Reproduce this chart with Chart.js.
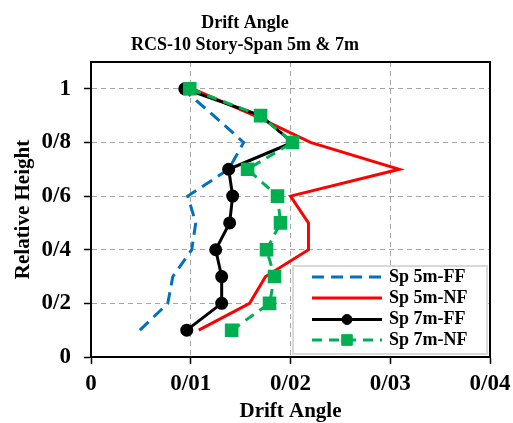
<!DOCTYPE html>
<html>
<head>
<meta charset="utf-8">
<title>Drift Angle</title>
<script src="https://cdn.jsdelivr.net/npm/chart.js@4.4.1/dist/chart.umd.min.js"></script>
<style>
    html, body { margin: 0; padding: 0; background: #fff; }
    canvas { display: block; }
</style>
</head>
<body>
<canvas id="driftChart" width="513" height="423"></canvas>
<script>
// ==========================================================================================================
// -- Data --
// ==========================================================================================================

const relativeHeight = [0.1, 0.2, 0.3, 0.4, 0.5, 0.6, 0.7, 0.8, 0.9, 1.0];

const sp5mFF = [0.0049, 0.0077, 0.0082, 0.0101, 0.0105, 0.0097, 0.0138, 0.0153, 0.0123, 0.0092];
const sp5mNF = [0.0108, 0.0159, 0.0175, 0.0218, 0.0218, 0.0200, 0.0309, 0.0220, 0.0164, 0.0102];
const sp7mFF = [0.0096, 0.0131, 0.0131, 0.0125, 0.0139, 0.0142, 0.0138, 0.0202, 0.0170, 0.0094];
const sp7mNF = [0.0141, 0.0179, 0.0184, 0.0176, 0.0190, 0.0187, 0.0157, 0.0202, 0.0170, 0.0099];

const seriesNames = ['Sp 5m-FF', 'Sp 5m-NF', 'Sp 7m-FF', 'Sp 7m-NF'];

const xTickValues = [0, 0.01, 0.02, 0.03, 0.04];
const xTickLabels = ['0', '0/01', '0/02', '0/03', '0/04'];
const yTickValues = [0, 0.2, 0.4, 0.6, 0.8, 1];
const yTickLabels = ['0', '0/2', '0/4', '0/6', '0/8', '1'];

// ==========================================================================================================
// -- Helpers --
// ==========================================================================================================

const FONT = "'Liberation Serif', 'Times New Roman', serif";
Chart.defaults.font.family = FONT;
Chart.defaults.color = '#000';

function toPoints(values) {
    return values.map((v, i) => ({ x: v, y: relativeHeight[i] }));
}

// no label overhang padding, the layout padding decides the plot box
function noOverhang(scale) {
    scale.paddingLeft = 0;
    scale.paddingRight = 0;
    scale.paddingTop = 0;
    scale.paddingBottom = 0;
}

// frame round the plot + legend inside the plot area
const framePlugin = {
    id: 'frameAndLegend',
    afterDraw(chart) {
        const { ctx, chartArea } = chart;
        ctx.save();
        ctx.strokeStyle = '#000';
        ctx.lineWidth = 2;
        ctx.strokeRect(chartArea.left, chartArea.top, chartArea.right - chartArea.left, chartArea.bottom - chartArea.top);

        // Legend box
        const box = { x: 293, y: 266, w: 194, h: 88 };
        ctx.fillStyle = '#fff';
        ctx.fillRect(box.x, box.y, box.w, box.h);
        ctx.strokeStyle = '#d9d9d9';
        ctx.lineWidth = 2;
        ctx.strokeRect(box.x, box.y, box.w, box.h);

        const rowY = [277, 298, 319.5, 340];
        chart.data.datasets.forEach((ds, i) => {
            const y = rowY[i];
            ctx.save();
            ctx.strokeStyle = ds.borderColor;
            ctx.lineWidth = ds.borderWidth;
            ctx.setLineDash(ds.borderDash || []);
            ctx.beginPath();
            ctx.moveTo(312, y);
            ctx.lineTo(382, y);
            ctx.stroke();
            ctx.restore();
            if (ds.pointRadius > 0) {
                ctx.fillStyle = ds.pointBackgroundColor;
                ctx.strokeStyle = ds.pointBorderColor;
                ctx.lineWidth = 1;
                Chart.helpers.drawPoint(ctx, {
                    pointStyle: ds.pointStyle,
                    radius: ds.pointRadius,
                    borderWidth: 1,
                    rotation: 0
                }, 347, y);
            }
            ctx.fillStyle = '#000';
            ctx.font = `bold 18px ${FONT}`;
            ctx.textAlign = 'left';
            ctx.textBaseline = 'middle';
            ctx.fillText(ds.label, 389, y);
        });
        ctx.restore();
    }
};

// ==========================================================================================================
// -- Chart --
// ==========================================================================================================

const ctx = document.getElementById('driftChart').getContext('2d');

new Chart(ctx, {
    type: 'line',
    data: {
        datasets: [
            {
                label: seriesNames[0],
                data: toPoints(sp5mFF),
                borderColor: '#0070C0',
                borderWidth: 3,
                borderDash: [12, 7],
                pointRadius: 0,
                order: 4
            },
            {
                label: seriesNames[1],
                data: toPoints(sp5mNF),
                borderColor: '#FF0000',
                borderWidth: 3,
                pointRadius: 0,
                order: 3
            },
            {
                label: seriesNames[2],
                data: toPoints(sp7mFF),
                borderColor: '#000000',
                borderWidth: 3,
                pointStyle: 'circle',
                pointRadius: 5,
                pointBackgroundColor: '#000000',
                pointBorderColor: '#000000',
                order: 2
            },
            {
                label: seriesNames[3],
                data: toPoints(sp7mNF),
                borderColor: '#00B050',
                borderWidth: 3,
                borderDash: [10, 7],
                pointStyle: 'rect',
                pointRadius: 7.5,
                pointBackgroundColor: '#00B050',
                pointBorderColor: '#00B050',
                order: 1
            }
        ]
    },
    options: {
        responsive: false,
        animation: false,
        tension: 0,
        layout: { padding: { left: 0, right: 23, top: 0, bottom: 0 } },
        plugins: {
            legend: { display: false },
            tooltip: { enabled: false },
            title: {
                display: true,
                text: ['Drift Angle', 'RCS-10 Story-Span 5m & 7m'],
                color: '#000',
                font: { family: FONT, size: 18, weight: 'bold', lineHeight: 1.2 },
                padding: { top: 12.5, bottom: 6.3 }
            }
        },
        scales: {
            x: {
                type: 'linear',
                min: 0,
                max: 0.04,
                afterBuildTicks: (scale) => { scale.ticks = xTickValues.map(v => ({ value: v })); },
                afterFit: (scale) => { scale.height = 66; noOverhang(scale); },
                ticks: {
                    padding: 6,
                    maxRotation: 0,
                    font: { family: FONT, size: 23, weight: 'bold' },
                    callback: (value, index) => xTickLabels[index]
                },
                grid: {
                    color: '#a6a6a6',
                    lineWidth: 1,
                    tickColor: '#000',
                    tickLength: 7,
                    tickWidth: 1.5
                },
                border: { display: true, color: '#000', width: 2, dash: [5, 4] },
                title: {
                    display: true,
                    text: 'Drift Angle',
                    font: { family: FONT, size: 21, weight: 'bold', lineHeight: 1 },
                    padding: { top: 0, bottom: 1 }
                }
            },
            y: {
                type: 'linear',
                min: 0,
                max: 1.1,
                afterBuildTicks: (scale) => { scale.ticks = yTickValues.map(v => ({ value: v })); },
                afterFit: (scale) => { scale.width = 91; noOverhang(scale); },
                ticks: {
                    padding: 13,
                    font: { family: FONT, size: 23, weight: 'bold' },
                    callback: (value, index) => yTickLabels[index]
                },
                grid: {
                    color: '#a6a6a6',
                    lineWidth: 1,
                    tickColor: '#000',
                    tickLength: 7,
                    tickWidth: 1.5
                },
                border: { display: true, color: '#000', width: 2, dash: [5, 4] },
                title: {
                    display: true,
                    text: 'Relative Height',
                    font: { family: FONT, size: 21, weight: 'bold', lineHeight: 1 },
                    padding: { top: 13, bottom: 0 }
                }
            }
        }
    },
    plugins: [framePlugin]
});
</script>
</body>
</html>
